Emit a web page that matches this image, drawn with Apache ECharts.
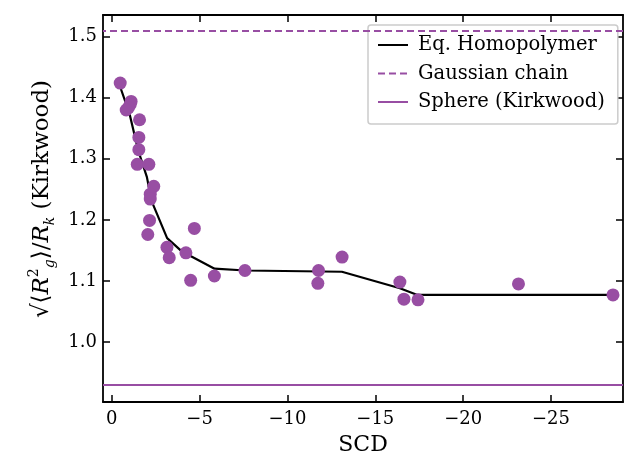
<!DOCTYPE html>
<html>
<head>
<meta charset="utf-8">
<script src="https://cdn.jsdelivr.net/npm/echarts@6/dist/echarts.min.js"></script>
<style>
  html, body { margin: 0; padding: 0; background: #fff; }
  #chart { width: 625px; height: 457px; }
</style>
</head>
<body>
<div id="chart"></div>
<script>
// simulation points
const scdPts = [-0.48, -1.1, -1.05, -0.95, -0.82, -1.58, -1.54, -1.54, -1.45, -2.11, -2.39, -2.19, -2.19, -2.15, -2.05, -4.70, -3.14, -3.27, -4.22, -4.49, -5.84, -7.58, -11.77, -11.73, -13.11, -16.40, -16.63, -17.43, -23.15, -28.53]
const ratioPts = [1.424, 1.394, 1.389, 1.384, 1.380, 1.364, 1.335, 1.315, 1.291, 1.291, 1.255, 1.242, 1.234, 1.199, 1.176, 1.186, 1.155, 1.138, 1.146, 1.101, 1.108, 1.117, 1.117, 1.096, 1.139, 1.098, 1.070, 1.069, 1.095, 1.077]

// Eq. homopolymer curve
const homoX = [-0.5, -1.0, -1.5, -2.0, -2.25, -3.15, -4.0, -5.85, -7.6, -13.1, -16.4, -17.4, -28.5]
const homoY = [1.416, 1.375, 1.314, 1.27, 1.232, 1.170, 1.148, 1.120, 1.117, 1.115, 1.088, 1.077, 1.077]

const gaussianLevel = 1.507
const sphereLevel = 0.929

const xTicks = [0, -5, -10, -15, -20, -25]
const yTicks = [1.0, 1.1, 1.2, 1.3, 1.4, 1.5]
const xRange = [-29.1, 0.5]
const yRange = [0.9016, 1.5356]

const purple = '#984ea3'
const font = 'DejaVu Serif'

const myChart = echarts.init(document.getElementById('chart'), null, { renderer: 'canvas' })

const fmtX = v => (v === 0 ? '0' : '\u2212' + Math.abs(v))

function xAxisCfg(top) {
    return {
        type: 'value',
        position: top ? 'top' : 'bottom',
        inverse: true,
        min: xRange[0],
        max: xRange[1],
        name: top ? '' : 'SCD',
        nameLocation: 'middle',
        nameGap: 32,
        nameTextStyle: { fontFamily: font, fontSize: 22, color: '#000' },
        axisLine: { onZero: false, lineStyle: { color: '#000', width: 1.8 } },
        axisTick: { show: true, inside: true, length: 7, customValues: xTicks, lineStyle: { color: '#000', width: 1.5 } },
        axisLabel: { show: !top, customValues: xTicks, formatter: fmtX, fontFamily: font, fontSize: 18, color: '#000', margin: 8 },
        splitLine: { show: false }
    }
}

function yAxisCfg(right) {
    return {
        type: 'value',
        position: right ? 'right' : 'left',
        min: yRange[0],
        max: yRange[1],
        name: right ? '' : '{t|\u221A\u27E8}{it|R}{sup|2}{sub|g}{t|\u27E9/}{it|R}{sub|k}{t| (Kirkwood)}',
        nameLocation: 'middle',
        nameRotate: 90,
        nameGap: 46,
        nameTextStyle: {
            fontFamily: font, fontSize: 23, color: '#000',
            padding: [0, 0, 0, 19],
            rich: {
                t: { fontFamily: font, fontSize: 23, color: '#000', lineHeight: 30 },
                it: { fontFamily: font, fontSize: 23, fontStyle: 'italic', color: '#000', lineHeight: 30 },
                sup: { fontFamily: font, fontSize: 14, color: '#000', verticalAlign: 'top', lineHeight: 30, padding: [0, 0, 12, 0] },
                sub: { fontFamily: font, fontSize: 14, fontStyle: 'italic', color: '#000', verticalAlign: 'bottom', lineHeight: 30, padding: [10, 0, 0, 0] }
            }
        },
        axisLine: { onZero: false, lineStyle: { color: '#000', width: 1.8 } },
        axisTick: { show: true, inside: true, length: 7, customValues: yTicks, lineStyle: { color: '#000', width: 1.5 } },
        axisLabel: { show: !right, customValues: yTicks, formatter: v => v.toFixed(1), fontFamily: font, fontSize: 18, color: '#000', margin: 6 },
        splitLine: { show: false }
    }
}

const option = {
    animation: false,
    backgroundColor: '#fff',
    grid: { left: 103, right: 2, top: 15, bottom: 55, outerBoundsMode: 'none' },
    xAxis: [xAxisCfg(false), xAxisCfg(true)],
    yAxis: [yAxisCfg(false), yAxisCfg(true)],
    legend: {
        orient: 'vertical',
        left: 368,
        top: 25,
        padding: [10, 13, 12, 9],
        itemWidth: 30,
        itemHeight: 14,
        itemGap: 8.5,
        backgroundColor: '#fff',
        borderColor: '#cccccc',
        borderWidth: 1.5,
        borderRadius: 3,
        itemStyle: { opacity: 0 },
        textStyle: { fontFamily: font, fontSize: 19.5, color: '#000', padding: [0, 0, 0, 5] },
        data: ['Eq. Homopolymer', 'Gaussian chain', 'Sphere (Kirkwood)']
    },
    series: [
        {
            name: 'Eq. Homopolymer',
            type: 'line',
            symbol: 'none',
            lineStyle: { color: '#000', width: 2.2 },
            itemStyle: { color: '#000' },
            data: homoX.map((x, i) => [x, homoY[i]]),
            z: 3
        },
        {
            name: 'Gaussian chain',
            type: 'line',
            symbol: 'none',
            lineStyle: { color: purple, width: 2, type: [7, 4] },
            itemStyle: { color: purple },
            data: [],
            markLine: {
                silent: true,
                symbol: 'none',
                label: { show: false },
                lineStyle: { color: purple, width: 2, type: [7, 4] },
                data: [{ yAxis: gaussianLevel }]
            }
        },
        {
            name: 'Sphere (Kirkwood)',
            type: 'line',
            symbol: 'none',
            lineStyle: { color: purple, width: 2 },
            itemStyle: { color: purple },
            data: [],
            markLine: {
                silent: true,
                symbol: 'none',
                label: { show: false },
                lineStyle: { color: purple, width: 2, type: 'solid' },
                data: [{ yAxis: sphereLevel }]
            }
        },
        {
            name: 'points',
            type: 'scatter',
            symbolSize: 13,
            itemStyle: { color: purple, opacity: 1 },
            data: scdPts.map((x, i) => [x, ratioPts[i]]),
            z: 4
        }
    ]
}

myChart.setOption(option)
</script>
</body>
</html>
